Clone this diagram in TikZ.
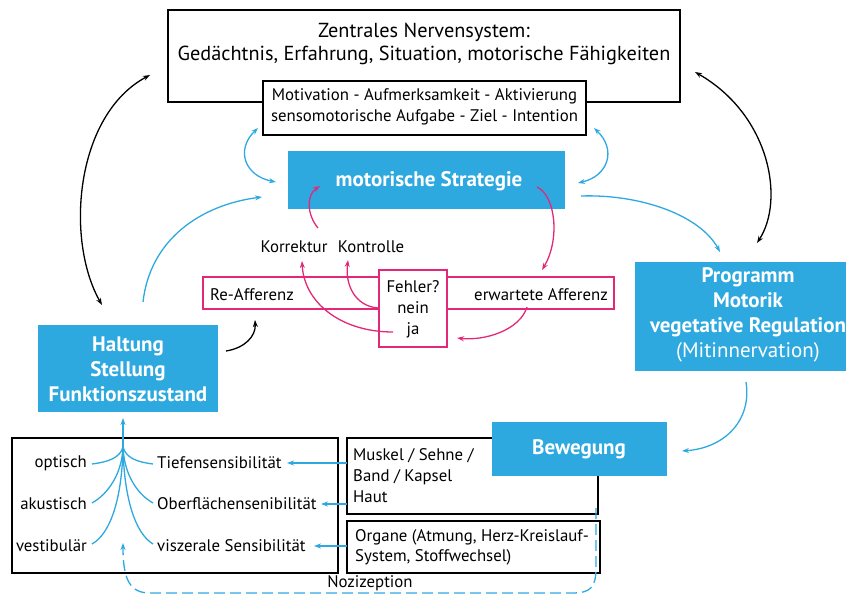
\documentclass[tikz,border=0pt]{standalone}
\usepackage{fontspec}
\setmainfont{PT Sans}
\usetikzlibrary{arrows.meta}
\definecolor{myblue}{RGB}{46,169,224}
\definecolor{mypink}{RGB}{228,40,120}
\begin{document}
\begin{tikzpicture}[x=1pt,y=-1pt,
  blkbox/.style={draw=black,line width=1.8pt,fill=white,inner sep=0pt},
  pinkbox/.style={draw=mypink,line width=1.8pt,fill=white,inner sep=0pt},
  bluebox/.style={fill=myblue,draw=none,inner sep=0pt},
  txt/.style={inner sep=0pt,align=center,font=\fontsize{16.8}{21}\selectfont},
  bigtxt/.style={inner sep=0pt,align=center,font=\fontsize{20.3}{23}\selectfont},
  wtxt/.style={inner sep=0pt,align=center,text=white,font=\fontsize{21}{25}\bfseries\selectfont},
  tip/.style={-{Stealth[length=7pt,width=5pt]}},
  dtip/.style={{Stealth[length=7pt,width=5pt]}-{Stealth[length=7pt,width=5pt]}},
  bl/.style={draw=myblue,line width=1.3pt},
  pk/.style={draw=mypink,line width=1.3pt},
  bk/.style={draw=black,line width=1.3pt}]
\useasboundingbox (0,0) rectangle (846,596);
% ZNS
\node[blkbox,minimum width=512,minimum height=92] (zns) at (424,56) {};
\node[bigtxt] (znst) at (424,44) {Zentrales Nervensystem:\\Gedächtnis, Erfahrung, Situation, motorische Fähigkeiten};
\node[blkbox,minimum width=323,minimum height=54] (mot) at (424.5,108) {};
\node[txt] (mott) at (424.5,106.5) {Motivation - Aufmerksamkeit - Aktivierung\\sensomotorische Aufgabe - Ziel - Intention};
% Strategie
\node[bluebox,minimum width=277,minimum height=58] (strat) at (426.5,180) {};
\node[wtxt] (stratt) at (429,181) {motorische Strategie};
% Haltung
\node[bluebox,minimum width=180,minimum height=87] (halt) at (128,368.5) {};
\node[wtxt] (haltt) at (128,369) {Haltung\\Stellung\\Funktionszustand};
% Programm
\node[bluebox,minimum width=220,minimum height=109] (prog) at (745,316.5) {};
\node[wtxt] (progt) at (748,315) {Programm\\Motorik\\vegetative Regulation\\{\mdseries (Mitinnervation)}};
% Muskel / Organe boxes
\node[blkbox,minimum width=251,minimum height=76] (musk) at (472.5,476) {};
\node[txt,align=left,anchor=west] (muskt) at (353,475.5) {Muskel / Sehne /\\Band / Kapsel\\Haut};
\node[blkbox,minimum width=253,minimum height=52] (org) at (473.5,547) {};
\node[txt,align=left,anchor=west,font=\fontsize{16.8}{20}\selectfont] (orgt) at (355,547) {Organe (Atmung, Herz-Kreislauf-\\System, Stoffwechsel)};
% Bewegung
\node[bluebox,minimum width=175,minimum height=54] (bew) at (579.5,449) {};
\node[wtxt] (bewt) at (579,449) {Bewegung};
% sensory box
\node[blkbox,minimum width=326,minimum height=135] (sens) at (175,505.5) {};
\node[txt,anchor=east] (opt) at (87,463) {optisch};
\node[txt,anchor=east] (aku) at (87,504) {akustisch};
\node[txt,anchor=east] (ves) at (87,546) {vestibulär};
\node[txt,anchor=west] (tief) at (157,463) {Tiefensensibilität};
\node[txt,anchor=west] (ober) at (157,504) {Oberflächensenibilität};
\node[txt,anchor=west] (visz) at (157,546) {viszerale Sensibilität};
\coordinate (conv) at (123,447);
\coordinate (convtop) at (123,418);
\coordinate (ol) at (92,464);
\coordinate (al) at (92,503);
\coordinate (vl) at (92,544);
\coordinate (or) at (153,464);
\coordinate (ar) at (153,503);
\coordinate (vr) at (153,544);
\draw[bl] (ol) .. controls (108,462) and (120,458) .. (conv);
\draw[bl] (al) .. controls (108,494) and (122,474) .. (conv);
\draw[bl] (vl) .. controls (110,534) and (122,500) .. (conv);
\draw[bl] (or) .. controls (137,462) and (126,458) .. (conv);
\draw[bl] (ar) .. controls (137,494) and (124,474) .. (conv);
\draw[bl] (vr) .. controls (136,534) and (124,500) .. (conv);
\draw[bl,tip] (conv) -- (convtop);
% sensory arrows
\coordinate (m1) at (347,463);
\coordinate (m2) at (347,504);
\coordinate (m3) at (347,546);
\draw[bl,tip] (m1) -- (287,463);
\draw[bl,tip] (m2) -- (321,504);
\draw[bl,tip] (m3) -- (314,546);
% Nozizeption
\coordinate (nz0) at (596,508);
\coordinate (nz1) at (123,543);
\draw[bl,tip,dash pattern=on 11pt off 5pt] (nz0) -- (596,568) .. controls (596,588) and (590,593) .. (572,593) -- (150,593) .. controls (130,593) and (123,580) .. (nz1);
\node[txt] (noz) at (370,583) {Nozizeption};
% Re-Afferenz / Fehler
\node[pinkbox,minimum width=411,minimum height=32] (aff) at (408.5,293) {};
\node[txt,anchor=west] (reaff) at (210,295) {Re-Afferenz};
\node[txt,anchor=east] (erw) at (608,295) {erwartete Afferenz};
\node[pinkbox,minimum width=68,minimum height=77] (fehl) at (413,308.5) {};
\node[txt] (fehlt) at (413,287) {Fehler?};
\node[txt] (nein) at (413,308) {nein};
\node[txt] (ja) at (413,330) {ja};
\node[txt] (korr) at (294,247) {Korrektur};
\node[txt] (kont) at (371,247) {Kontrolle};
% pink arrows
\coordinate (p1) at (318,228);
\coordinate (p1e) at (320,186);
\draw[pk,tip] (p1) .. controls (307,215) and (306,195) .. (p1e);
\coordinate (p2) at (537,187);
\coordinate (p2e) at (542,270);
\draw[pk,tip] (p2) .. controls (556,196) and (560,240) .. (p2e);
\coordinate (p3) at (527,307);
\coordinate (p3e) at (457,338);
\draw[pk,tip] (p3) .. controls (520,330) and (485,341) .. (p3e);
\coordinate (p4) at (393,332);
\coordinate (p4e) at (302,261);
\draw[pk,tip] (p4) .. controls (340,332) and (304,302) .. (p4e);
\coordinate (p5) at (378,308);
\coordinate (p5e) at (348,260);
\draw[pk,tip] (p5) .. controls (355,306) and (345,285) .. (p5e);
% black arrows
\coordinate (b1) at (150,75);
\coordinate (b1e) at (102,305);
\draw[bk,dtip] (b1) .. controls (75,115) and (65,240) .. (b1e);
\coordinate (b2) at (695,72);
\coordinate (b2e) at (757,243);
\draw[bk,dtip] (b2) .. controls (770,115) and (785,200) .. (b2e);
\coordinate (b3) at (226,351);
\coordinate (b3e) at (255,320);
\draw[bk,tip] (b3) .. controls (245,348) and (256,336) .. (b3e);
% blue arrows
\coordinate (c1) at (258,128);
\coordinate (c1e) at (276,182);
\draw[bl,dtip] (c1) .. controls (235,150) and (245,176) .. (c1e);
\coordinate (c2) at (594,128);
\coordinate (c2e) at (578,183);
\draw[bl,dtip] (c2) .. controls (617,150) and (608,176) .. (c2e);
\coordinate (c3) at (143,302);
\coordinate (c3e) at (262,197);
\draw[bl,tip] (c3) .. controls (150,240) and (200,205) .. (c3e);
\coordinate (c4) at (581,196);
\coordinate (c4e) at (720,252);
\draw[bl,tip] (c4) .. controls (640,194) and (700,215) .. (c4e);
\coordinate (c5) at (746,382);
\coordinate (c5e) at (682,451);
\draw[bl,tip] (c5) .. controls (752,420) and (725,448) .. (c5e);
\end{tikzpicture}
\end{document}
